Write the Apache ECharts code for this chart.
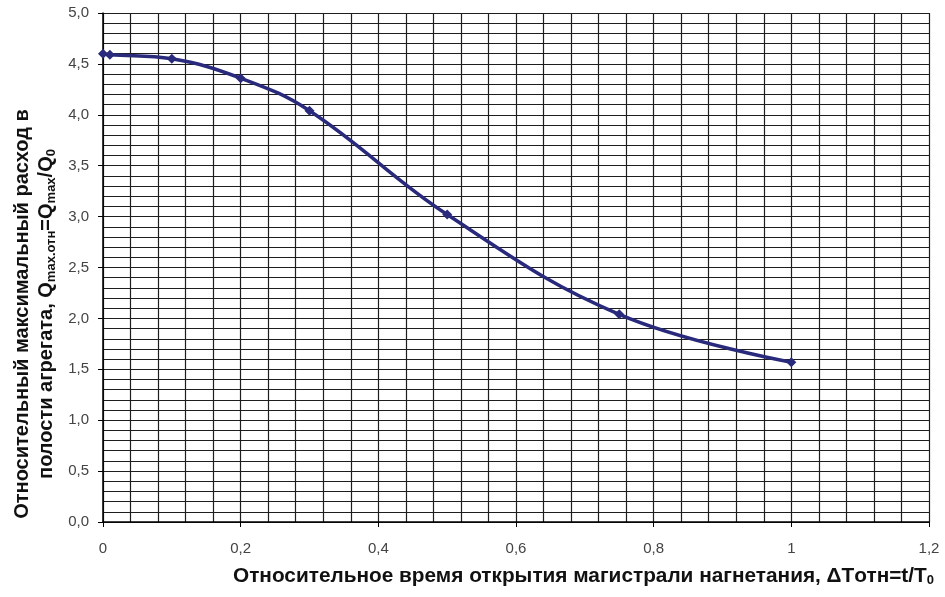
<!DOCTYPE html>
<html>
<head>
<meta charset="utf-8">
<script src="https://cdn.jsdelivr.net/npm/echarts@6/dist/echarts.min.js"></script>
<style>
  html, body { margin: 0; padding: 0; background: #fff; }
  #chart { width: 945px; height: 597px; }
</style>
</head>
<body>
<div id="chart"></div>
<script>
// относительное время открытия
const tValues = [0, 0.01, 0.1, 0.2, 0.3, 0.5, 0.75, 1.0];
// относительный максимальный расход
const qValues = [4.6, 4.59, 4.55, 4.36, 4.04, 3.02, 2.04, 1.57];

const xTicks = { min: 0, max: 1.2, step: 0.2 };
const yTicks = { min: 0, max: 5, step: 0.5 };

const chart = echarts.init(document.getElementById('chart'));

const comma = v => String(+v.toFixed(2)).replace('.', ',');
const gridColor = '#1e1e1e';
const subStyle = { fontSize: 13, fontWeight: 'bold', lineHeight: 14, verticalAlign: 'bottom', fontFamily: 'Liberation Sans' };

const option = {
  backgroundColor: '#fff',
  animation: false,
  grid: { left: 103, right: 16, top: 13, bottom: 75 },
  xAxis: {
    type: 'value',
    min: xTicks.min,
    max: xTicks.max,
    interval: xTicks.step,
    axisLine: { show: true, onZero: false, lineStyle: { color: '#000', width: 1.5 } },
    axisTick: { show: true, length: 5, lineStyle: { color: '#000' } },
    axisLabel: { margin: 19, color: '#444', fontSize: 15, fontFamily: 'Liberation Sans', formatter: comma },
    splitLine: { show: true, lineStyle: { color: gridColor, width: 1.2 } },
    minorTick: { show: false, splitNumber: 5 },
    minorSplitLine: { show: true, lineStyle: { color: gridColor, width: 1.2 } }
  },
  yAxis: {
    type: 'value',
    min: yTicks.min,
    max: yTicks.max,
    interval: yTicks.step,
    axisLine: { show: true, onZero: false, lineStyle: { color: '#000', width: 1.5 } },
    axisTick: { show: true, length: 5, lineStyle: { color: '#000' } },
    axisLabel: { margin: 14, color: '#444', fontSize: 15, fontFamily: 'Liberation Sans', formatter: v => v.toFixed(1).replace('.', ',') },
    splitLine: { show: true, lineStyle: { color: gridColor, width: 1.2 } },
    minorTick: { show: false, splitNumber: 5 },
    minorSplitLine: { show: true, lineStyle: { color: gridColor, width: 1.2 } }
  },
  graphic: [
    {
      type: 'text',
      left: 233,
      top: 566,
      style: {
        text: 'Относительное время открытия магистрали нагнетания, ΔTотн=t/T{s|0}',
        font: 'bold 20.8px "Liberation Sans"',
        fill: '#111',
        rich: { s: subStyle }
      }
    },
    {
      type: 'text',
      x: 34,
      y: 314,
      rotation: Math.PI / 2,
      style: {
        text: 'Относительный максимальный расход в\nполости агрегата, Q{s|max.отн}=Q{s|max}/Q{s|0}',
        font: 'bold 20px "Liberation Sans"',
        fill: '#111',
        align: 'center',
        verticalAlign: 'middle',
        lineHeight: 24,
        rich: { s: subStyle }
      }
    }
  ],
  series: [
    {
      name: 'Qmax',
      type: 'line',
      smooth: 0.4,
      data: tValues.map((t, i) => [t, qValues[i]]),
      symbol: 'diamond',
      symbolSize: 10,
      lineStyle: { color: '#2a2a7c', width: 3.5 },
      itemStyle: { color: '#2a2a7c' }
    }
  ]
};

chart.setOption(option);
</script>
</body>
</html>
